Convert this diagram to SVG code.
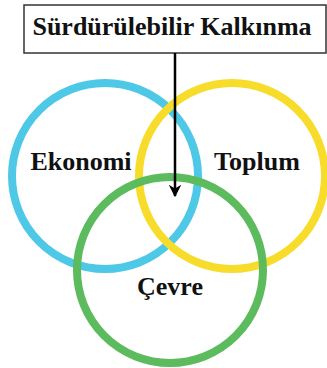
<svg xmlns="http://www.w3.org/2000/svg" width="327" height="368" viewBox="0 0 327 368">
<style>
.ring{fill:none;stroke-width:8}
.lbl{font-family:"Liberation Serif","Times New Roman",serif;font-weight:bold;font-size:26px;fill:#111;text-anchor:middle}
</style>
<defs>
<marker id="ah" viewBox="0 0 10 10" refX="9" refY="5" markerWidth="5" markerHeight="7" markerUnits="strokeWidth" orient="auto">
<path d="M0,0 L10,5 L0,10 L3,5 Z" fill="#000"/>
</marker>
</defs>
<rect width="327" height="368" fill="#fff"/>
<g id="ekonomi"><circle class="ring" cx="105" cy="176" r="93" stroke="#4DC8E6"/><text class="lbl" x="81" y="170">Ekonomi</text></g>
<g id="toplum"><circle class="ring" cx="232" cy="176" r="93" stroke="#F8DC2C"/><text class="lbl" x="257" y="170">Toplum</text></g>
<g id="cevre"><circle class="ring" cx="170" cy="270" r="93" stroke="#5CBB5C"/><text class="lbl" x="170" y="295">Çevre</text></g>
<g id="baslik"><rect x="24" y="5" width="302" height="48" fill="#fff" stroke="#333" stroke-width="1.5"/><text class="lbl" x="172" y="35">Sürdürülebilir Kalkınma</text></g>
<g id="connectors"><line x1="175" y1="53" x2="175" y2="196" stroke="#000" stroke-width="2.5" marker-end="url(#ah)"/></g>
</svg>
